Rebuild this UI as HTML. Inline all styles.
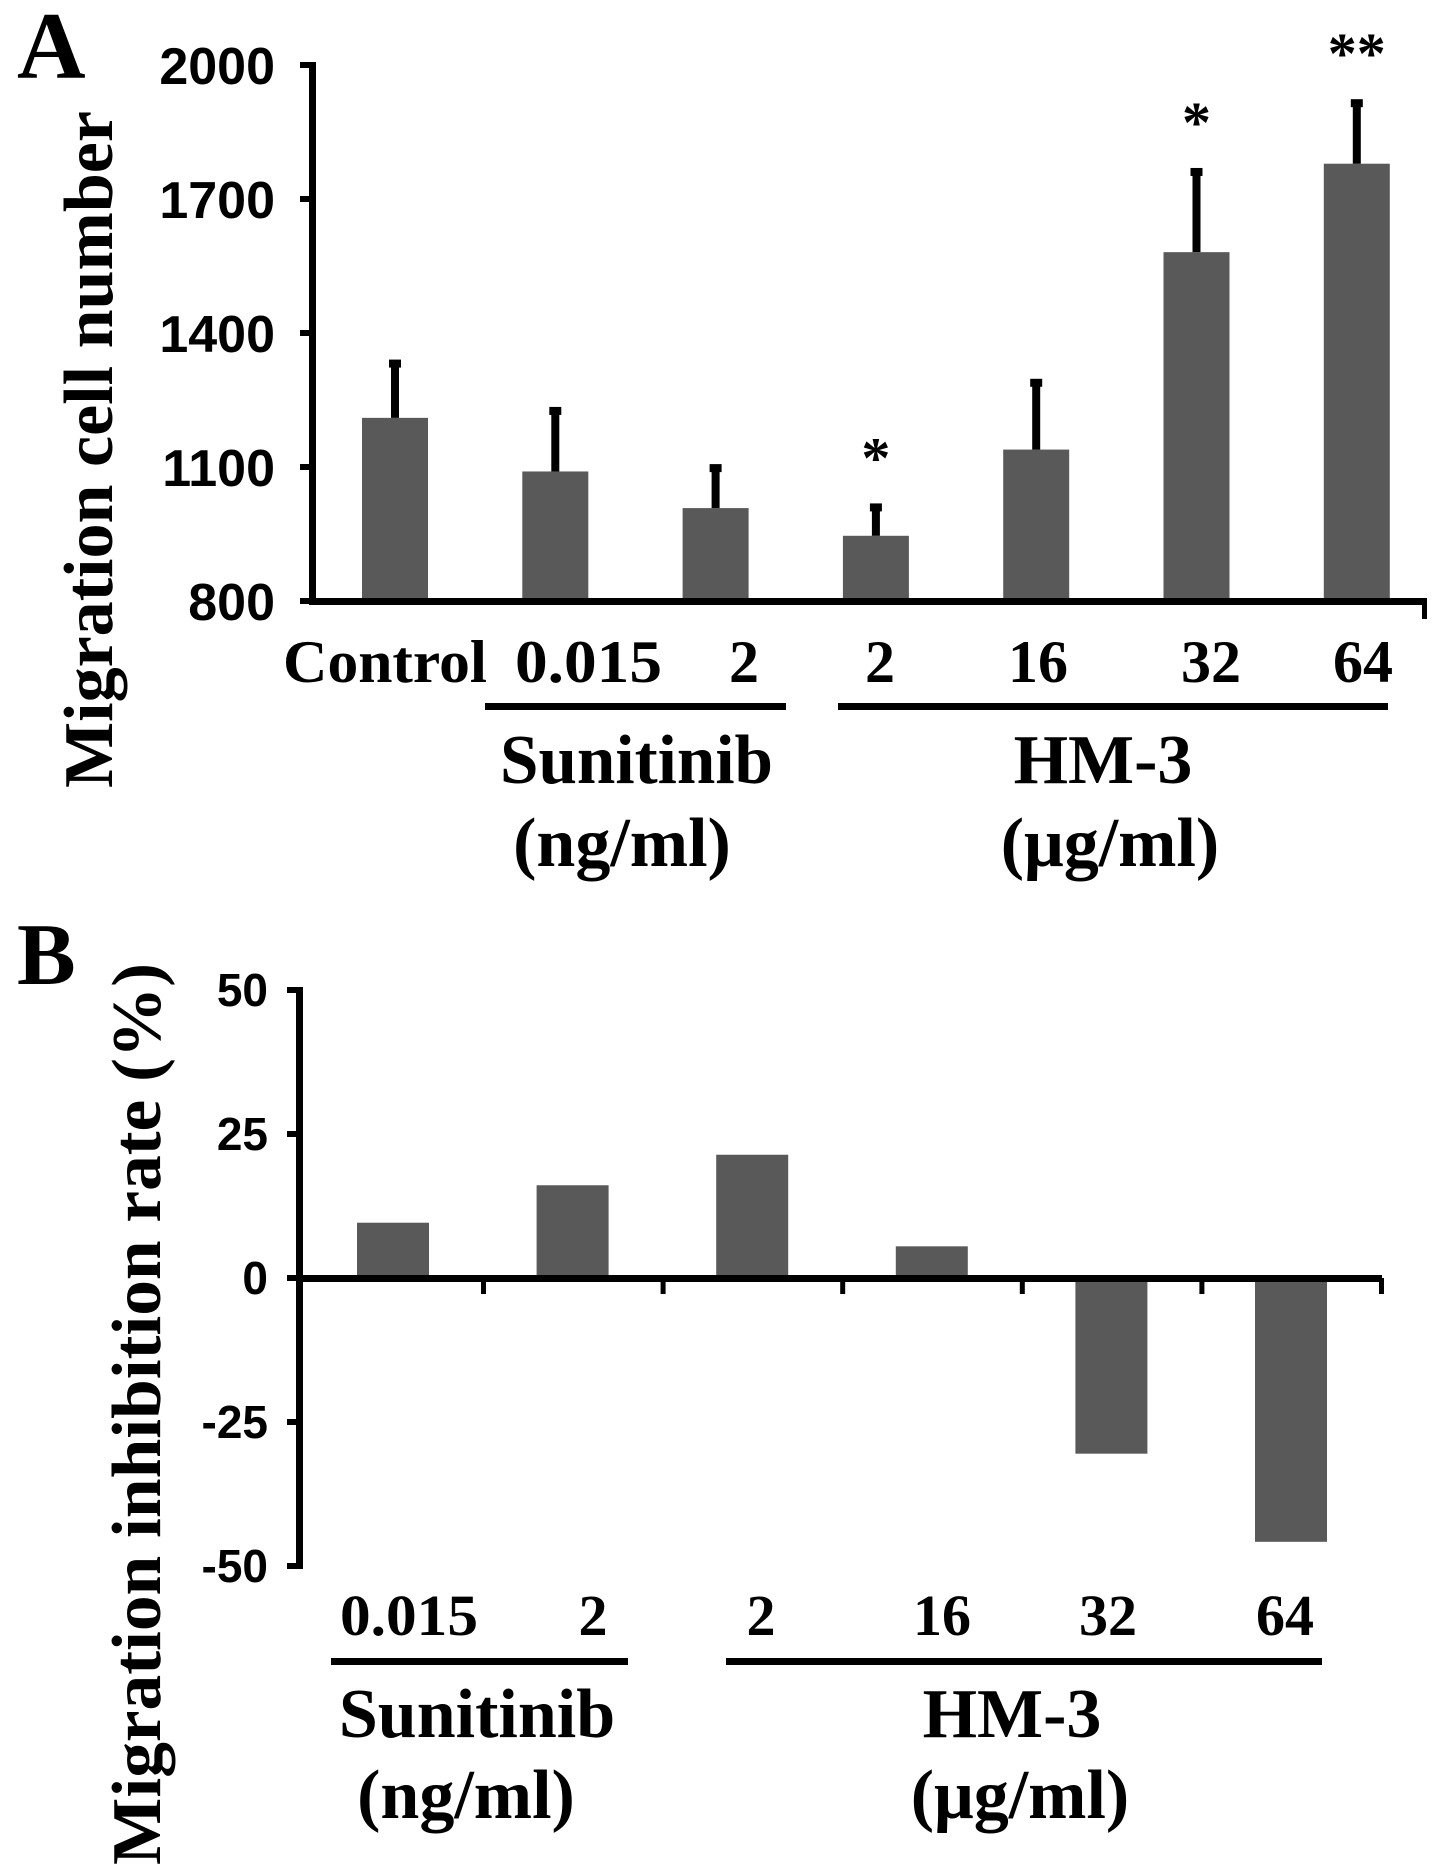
<!DOCTYPE html>
<html><head><meta charset="utf-8"><style>
html,body{margin:0;padding:0;background:#fff;}
svg{display:block;}
text{font-family:"Liberation Serif",serif;font-weight:bold;fill:#000;}
text.sans{font-family:"Liberation Sans",sans-serif;}
</style></head><body>
<svg id="fig" width="1441" height="1871" viewBox="0 0 1441 1871" xmlns="http://www.w3.org/2000/svg">
<text x="17" y="78" font-size="95">A</text>
<text x="17" y="984" font-size="88">B</text>
<text transform="translate(112,788) rotate(-90)" font-size="70" textLength="677" lengthAdjust="spacingAndGlyphs">Migration cell number</text>
<text transform="translate(160,1865) rotate(-90)" font-size="70" textLength="902" lengthAdjust="spacingAndGlyphs">Migration inhibition rate (%)</text>
<g id="ga"></g>
<g id="gb"></g>
<g font-size="60">
<text x="283" y="682" textLength="204" lengthAdjust="spacingAndGlyphs">Control</text>
<text x="515" y="682" textLength="147" lengthAdjust="spacingAndGlyphs">0.015</text>
<text x="744" y="682" text-anchor="middle">2</text>
<text x="880" y="682" text-anchor="middle">2</text>
<text x="1038" y="682" text-anchor="middle">16</text>
<text x="1211" y="682" text-anchor="middle">32</text>
<text x="1363" y="682" text-anchor="middle">64</text>
</g>
<rect x="485" y="703" width="301" height="7" fill="#000"/>
<rect x="838" y="703" width="550" height="7" fill="#000"/>
<text x="500" y="783" font-size="70" textLength="273" lengthAdjust="spacingAndGlyphs">Sunitinib</text>
<text x="622" y="866" font-size="70" text-anchor="middle">(ng/ml)</text>
<text x="1103" y="783" font-size="70" text-anchor="middle">HM-3</text>
<text x="1110" y="866" font-size="70" text-anchor="middle">(μg/ml)</text>
<g font-size="58">
<text x="340" y="1635" textLength="138" lengthAdjust="spacingAndGlyphs">0.015</text>
<text x="593" y="1635" text-anchor="middle">2</text>
<text x="761" y="1635" text-anchor="middle">2</text>
<text x="942" y="1635" text-anchor="middle">16</text>
<text x="1108" y="1635" text-anchor="middle">32</text>
<text x="1285" y="1635" text-anchor="middle">64</text>
</g>
<rect x="331" y="1658" width="297" height="7" fill="#000"/>
<rect x="726" y="1658" width="596" height="7" fill="#000"/>
<text x="477" y="1737" font-size="70" text-anchor="middle">Sunitinib</text>
<text x="466" y="1818" font-size="70" text-anchor="middle">(ng/ml)</text>
<text x="1012" y="1737" font-size="70" text-anchor="middle">HM-3</text>
<text x="1020" y="1818" font-size="70" text-anchor="middle">(μg/ml)</text>
</svg>
<script>
const catsA = ["Control","0.015","2","2","16","32","64"];
const valsA = [1210, 1090, 1008, 946, 1139, 1581, 1779];
const errA = [126, 140, 94, 68, 154, 184, 140];
const starsA = ["", "", "", "*", "", "*", "**"];
const ticksA = [800, 1100, 1400, 1700, 2000];
const catsB = ["0.015","2","2","16","32","64"];
const valsB = [9.6, 16.1, 21.4, 5.5, -30.5, -45.8];
const ticksB = [-50, -25, 0, 25, 50];

const NS = "http://www.w3.org/2000/svg";
function mk(tag, attrs, parent){const e=document.createElementNS(NS,tag);for(const k in attrs)e.setAttribute(k,attrs[k]);parent.appendChild(e);return e;}

const ga = document.getElementById('ga');
const yA = v => 601 - (v - 800) * (536 / 1200);
const xA = i => 395 + i * 160.3;
ticksA.forEach(t => {
  const tx = mk('text', {x: 275, y: yA(t) + 19, 'font-size': 52, 'text-anchor': 'end', 'class': 'sans'}, ga);
  
  
  tx.textContent = t;
  const tk = mk('rect', {x: 300, y: yA(t) - 3, width: 14, height: 6, fill: '#000'}, ga);
  
  
});
valsA.forEach((v, i) => {
  const x = xA(i);
  const b = mk('rect', {x: x - 33, y: yA(v), width: 66, height: yA(800) - yA(v), fill: '#595959'}, ga);
  
  
  const e = mk('rect', {x: x - 4, y: yA(v + errA[i]), width: 8, height: yA(v) - yA(v + errA[i]), fill: '#000'}, ga);
  
  
  const c = mk('rect', {x: x - 6, y: yA(v + errA[i]) - 2, width: 12, height: 8, fill: '#000'}, ga);
  
  
  if (starsA[i]) {
    const s = mk('text', {x: x, y: yA(v + errA[i]) - 28, 'font-size': 58, 'text-anchor': 'middle'}, ga);
    
    
    s.textContent = starsA[i];
  }
});
const axA1 = mk('rect', {x: 309, y: yA(2000) - 3, width: 7, height: yA(800) - yA(2000) + 6, fill: '#000'}, ga);


const axA2 = mk('rect', {x: 309, y: yA(800) - 3, width: 1118, height: 7, fill: '#000'}, ga);


const endA = mk('rect', {x: 1422, y: yA(800), width: 5, height: 18, fill: '#000'}, ga);



const gb = document.getElementById('gb');
const yB = v => 1278 - v * (288 / 50);
const xB = i => 393 + i * 179.6;
ticksB.forEach(t => {
  const tx = mk('text', {x: 268, y: yB(t) + 16, 'font-size': 46, 'text-anchor': 'end', 'class': 'sans'}, gb);
  
  
  tx.textContent = t;
  const tk = mk('rect', {x: 287, y: yB(t) - 3, width: 14, height: 6, fill: '#000'}, gb);
  
  
});
valsB.forEach((v, i) => {
  const x = xB(i);
  const top = Math.min(yB(v), yB(0)), h = Math.abs(yB(v) - yB(0));
  const b = mk('rect', {x: x - 36, y: top, width: 72, height: h, fill: '#595959'}, gb);
  
  
});
const axB1 = mk('rect', {x: 296, y: yB(50) - 3, width: 7, height: yB(-50) - yB(50) + 6, fill: '#000'}, gb);


const axB2 = mk('rect', {x: 296, y: yB(0) - 3, width: 1086, height: 7, fill: '#000'}, gb);


catsB.forEach((c, i) => {
  const tk = mk('rect', {x: xB(i) + 88, y: yB(0), width: 5, height: 16, fill: '#000'}, gb);
  
  
});
</script>
</body></html>
